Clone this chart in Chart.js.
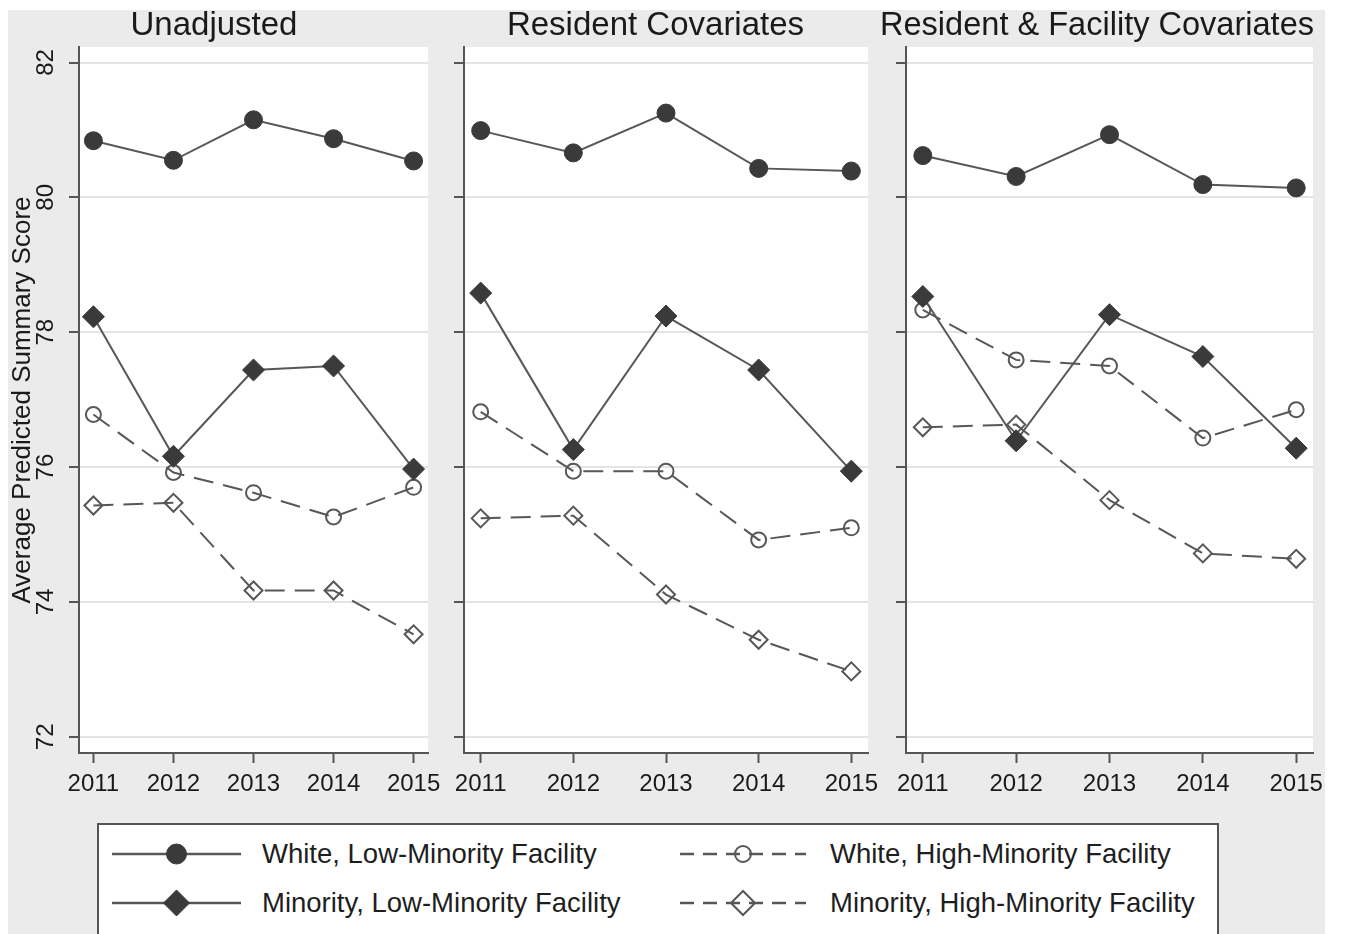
<!DOCTYPE html>
<html>
<head>
<meta charset="utf-8">
<title>Average Predicted Summary Score by Year</title>
<script src="https://cdn.jsdelivr.net/npm/chart.js@4.4.1/dist/chart.umd.min.js"></script>
<style>
  html, body { margin: 0; padding: 0; background: #ffffff; }
  body { width: 1345px; height: 934px; position: relative; overflow: hidden;
         font-family: "Liberation Sans", Arial, sans-serif; }
  #backdrop { position: absolute; left: 8px; top: 10px; width: 1317px; height: 924px; background: #ebebeb; }
  canvas.panel { position: absolute; top: 0; }
  #legend { position: absolute; left: 97px; top: 823px; width: 1118px; height: 120px;
            background: #ffffff; border: 2px solid #555555; }
  .lg-sym { position: absolute; }
  .lg-text { position: absolute; font-size: 27.5px; color: #1e1e1e; white-space: nowrap;
             height: 40px; line-height: 40px; }
</style>
</head>
<body>
<div id="backdrop"></div>
<canvas id="p1" class="panel" width="440" height="800" style="left:0px"></canvas>
<canvas id="p2" class="panel" width="440" height="800" style="left:440px"></canvas>
<canvas id="p3" class="panel" width="445" height="800" style="left:880px"></canvas>
<div id="legend"></div>

<script>
// ---- data ----
const years = [2011, 2012, 2013, 2014, 2015];
const yTicks = [72, 74, 76, 78, 80, 82];
const panelTitles = ['Unadjusted', 'Resident Covariates', 'Resident & Facility Covariates'];
const seriesNames = [
  'White, Low-Minority Facility',
  'Minority, Low-Minority Facility',
  'White, High-Minority Facility',
  'Minority, High-Minority Facility'
];
const yAxisTitle = 'Average Predicted Summary Score';

// Unadjusted
const unadjustedWhiteLow     = [80.84, 80.55, 81.15, 80.87, 80.54];
const unadjustedMinorityLow  = [78.23, 76.16, 77.44, 77.50, 75.97];
const unadjustedWhiteHigh    = [76.78, 75.92, 75.62, 75.26, 75.70];
const unadjustedMinorityHigh = [75.43, 75.47, 74.17, 74.17, 73.52];
// Resident covariates
const residentWhiteLow       = [80.99, 80.66, 81.25, 80.43, 80.39];
const residentMinorityLow    = [78.58, 76.26, 78.24, 77.44, 75.94];
const residentWhiteHigh      = [76.82, 75.94, 75.94, 74.92, 75.10];
const residentMinorityHigh   = [75.24, 75.28, 74.11, 73.44, 72.97];
// Resident & facility covariates
const facilityWhiteLow       = [80.62, 80.31, 80.93, 80.19, 80.14];
const facilityMinorityLow    = [78.53, 76.39, 78.26, 77.64, 76.28];
const facilityWhiteHigh      = [78.33, 77.59, 77.50, 76.43, 76.85];
const facilityMinorityHigh   = [76.59, 76.63, 75.51, 74.72, 74.64];

const panelSeries = [
  [unadjustedWhiteLow, unadjustedMinorityLow, unadjustedWhiteHigh, unadjustedMinorityHigh],
  [residentWhiteLow, residentMinorityLow, residentWhiteHigh, residentMinorityHigh],
  [facilityWhiteLow, facilityMinorityLow, facilityWhiteHigh, facilityMinorityHigh]
];

// ---- styling ----
const FONT = '"Liberation Sans", Arial, sans-serif';
const LINE = '#575757';
const MARK = '#3a3a3a';
const AXIS = '#555555';
const seriesStyles = [
  { dash: [],       shape: 'circle',  radius: 9,   filled: true,  lgRadius: 10 },
  { dash: [],       shape: 'rectRot', radius: 11,  filled: true,  lgRadius: 13 },
  { dash: [20, 10], shape: 'circle',  radius: 7.5, filled: false, lgRadius: 8 },
  { dash: [20, 10], shape: 'rectRot', radius: 9,   filled: false, lgRadius: 12 }
];

// layout of each panel canvas: y-axis box width and right padding
const panelLayout = [
  { id: 'p1', yWidth: 79, padRight: 12, labels: true },
  { id: 'p2', yWidth: 24, padRight: 9,  labels: false },
  { id: 'p3', yWidth: 26, padRight: 11, labels: false }
];

const plotBackground = {
  id: 'plotBackground',
  beforeDraw(chart) {
    const { ctx, chartArea: a } = chart;
    ctx.save();
    ctx.fillStyle = '#ffffff';
    ctx.fillRect(a.left, a.top, a.right - a.left, a.bottom - a.top);
    ctx.restore();
  }
};

function buildPanel(index) {
  const lay = panelLayout[index];
  const datasets = panelSeries[index].map((vals, i) => {
    const st = seriesStyles[i];
    return {
      label: seriesNames[i],
      data: years.map((yr, k) => ({ x: yr, y: vals[k] })),
      borderColor: LINE,
      borderWidth: 2,
      borderDash: st.dash,
      pointStyle: st.shape,
      pointRadius: st.radius,
      pointHoverRadius: st.radius,
      pointBackgroundColor: st.filled ? MARK : 'rgba(0,0,0,0)',
      pointBorderColor: st.filled ? MARK : LINE,
      pointBorderWidth: st.filled ? 1 : 2,
      tension: 0,
      fill: false
    };
  });

  return new Chart(document.getElementById(lay.id), {
    type: 'line',
    data: { datasets },
    plugins: [plotBackground],
    options: {
      responsive: false,
      animation: false,
      events: [],
      layout: { padding: { left: 0, right: lay.padRight, top: 0, bottom: 0 } },
      plugins: {
        legend: { display: false },
        tooltip: { enabled: false },
        title: {
          display: true,
          text: panelTitles[index],
          color: '#1a1a1a',
          font: { family: FONT, size: 33, weight: 'normal', lineHeight: 1 },
          padding: { top: 9, bottom: 5 }
        }
      },
      scales: {
        x: {
          type: 'linear',
          min: 2010.82,
          max: 2015.18,
          afterBuildTicks: s => { s.ticks = years.map(v => ({ value: v })); },
          afterFit: s => { s.height = 47; s.paddingLeft = 0; s.paddingRight = 0; },
          ticks: {
            autoSkip: false,
            maxRotation: 0,
            padding: 7,
            color: '#1a1a1a',
            font: { family: FONT, size: 24 },
            callback: v => String(v)
          },
          grid: {
            drawOnChartArea: false,
            drawTicks: true,
            tickLength: 10,
            tickColor: AXIS,
            tickWidth: 2
          },
          border: { display: true, color: AXIS, width: 2 }
        },
        y: {
          type: 'linear',
          min: 71.76,
          max: 82.23,
          afterBuildTicks: s => { s.ticks = yTicks.map(v => ({ value: v })); },
          afterFit: s => { s.width = lay.yWidth; },
          ticks: {
            display: lay.labels,
            minRotation: 90,
            maxRotation: 90,
            crossAlign: 'center',
            padding: 9,
            color: '#1a1a1a',
            font: { family: FONT, size: 24 },
            callback: v => String(v)
          },
          grid: {
            color: '#e4e4e4',
            lineWidth: 2,
            drawTicks: true,
            tickLength: 10,
            tickColor: AXIS,
            tickWidth: 2
          },
          border: { display: true, color: AXIS, width: 2 },
          title: {
            display: lay.labels,
            text: yAxisTitle,
            color: '#1a1a1a',
            font: { family: FONT, size: 26, lineHeight: 1.2 },
            padding: { top: 7, bottom: 0 }
          }
        }
      }
    }
  });
}

panelTitles.forEach((_, i) => buildPanel(i));

// ---- legend (2 x 2 grid) ----
const legend = document.getElementById('legend');
const legendCols = [
  { symLeft: 112, symWidth: 129, textLeft: 262 },
  { symLeft: 680, symWidth: 126, textLeft: 830 }
];
const legendRows = [854, 903];
const legendOrigin = { x: 99, y: 825 }; // inside the 2px border
const SVGNS = 'http://www.w3.org/2000/svg';

seriesNames.forEach((name, i) => {
  const st = seriesStyles[i];
  const col = legendCols[i < 2 ? 0 : 1];
  const rowY = legendRows[i % 2];
  const h = 34;

  const svg = document.createElementNS(SVGNS, 'svg');
  svg.setAttribute('width', col.symWidth);
  svg.setAttribute('height', h);
  svg.setAttribute('class', 'lg-sym');
  svg.style.left = (col.symLeft - legendOrigin.x) + 'px';
  svg.style.top = (rowY - h / 2 - legendOrigin.y) + 'px';

  const line = document.createElementNS(SVGNS, 'line');
  line.setAttribute('x1', 0); line.setAttribute('x2', col.symWidth);
  line.setAttribute('y1', h / 2); line.setAttribute('y2', h / 2);
  line.setAttribute('stroke', LINE);
  line.setAttribute('stroke-width', 2.5);
  if (st.dash.length) line.setAttribute('stroke-dasharray', '14 9');
  svg.appendChild(line);

  const cx = col.symWidth / 2, cy = h / 2, r = st.lgRadius;
  let mark;
  if (st.shape === 'circle') {
    mark = document.createElementNS(SVGNS, 'circle');
    mark.setAttribute('cx', cx); mark.setAttribute('cy', cy); mark.setAttribute('r', r);
  } else {
    mark = document.createElementNS(SVGNS, 'polygon');
    mark.setAttribute('points', `${cx - r},${cy} ${cx},${cy - r} ${cx + r},${cy} ${cx},${cy + r}`);
  }
  mark.setAttribute('fill', st.filled ? MARK : 'none');
  mark.setAttribute('stroke', st.filled ? MARK : LINE);
  mark.setAttribute('stroke-width', st.filled ? 1 : 2);
  svg.appendChild(mark);
  legend.appendChild(svg);

  const txt = document.createElement('div');
  txt.className = 'lg-text';
  txt.textContent = name;
  txt.style.left = (col.textLeft - legendOrigin.x) + 'px';
  txt.style.top = (rowY - 20 - legendOrigin.y) + 'px';
  legend.appendChild(txt);
});
</script>
</body>
</html>
